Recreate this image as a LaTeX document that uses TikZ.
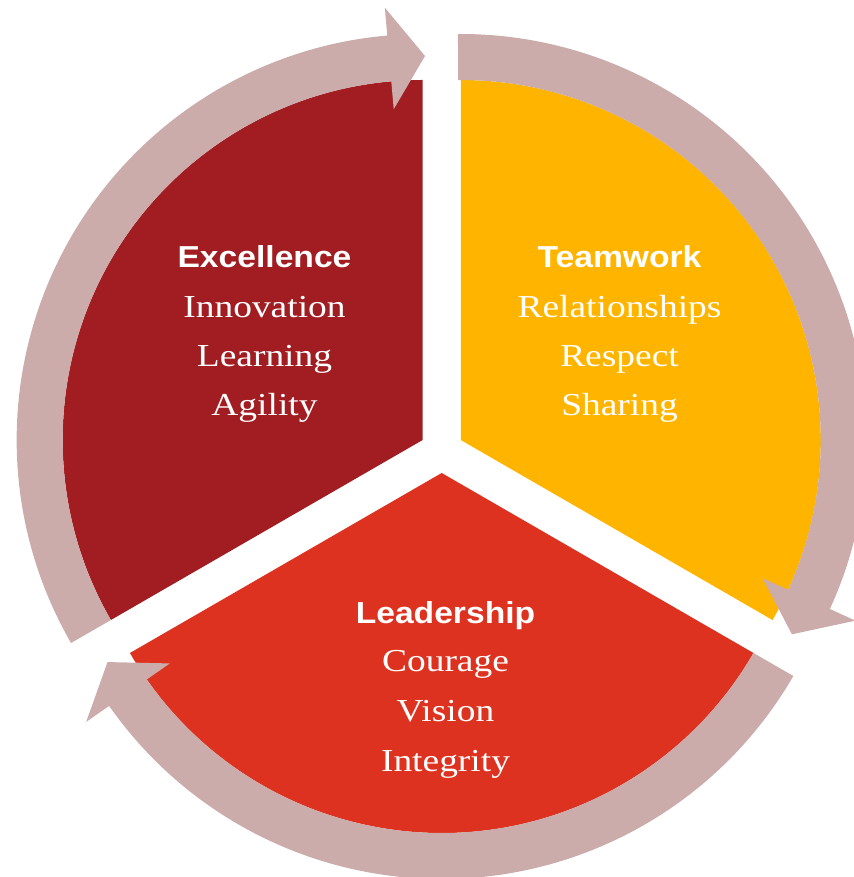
\documentclass[tikz,border=0pt]{standalone}
\usepackage{fontspec}
\setmainfont{Liberation Serif}[FakeStretch=1.17]
\newfontfamily\hdfont{Liberation Sans}[FakeStretch=1.11]
\definecolor{excc}{RGB}{161,29,33}
\definecolor{teamc}{RGB}{255,181,0}
\definecolor{leadc}{RGB}{222,50,32}
\definecolor{bandc}{RGB}{203,172,171}
\begin{document}
\begin{tikzpicture}[x=1pt,y=1pt,
  hd/.style={text=white,font=\hdfont\bfseries\fontsize{30.3}{36}\selectfont,anchor=base,inner sep=0pt},
  bd/.style={text=white,font=\fontsize{32}{38}\selectfont,anchor=base,inner sep=0pt},
  band/.style={fill=bandc}]
\useasboundingbox (0,0) rectangle (853,877);
\coordinate (E) at (422.65,437);
\coordinate (T) at (460.75,437);
\coordinate (L) at (441.7,404);
% sectors
\fill[excc] (E) -- ++(90:360) arc[start angle=90,end angle=210,radius=360] -- cycle;
\fill[teamc] (T) -- ++(-30:360) arc[start angle=-30,end angle=90,radius=360] -- cycle;
\fill[leadc] (L) -- ++(210:360) arc[start angle=210,end angle=330,radius=360] -- cycle;
% arrows
\begin{scope}[shift={(E)}]
\fill[band] (210:406) arc[start angle=210,end angle=95,radius=406] -- (95:434) -- (89.65:384) -- (95:332) -- (95:360) arc[start angle=95,end angle=210,radius=360] -- cycle;
\end{scope}
\begin{scope}[shift={(T)}]
\fill[band] (90.4:406) arc[start angle=90.4,end angle=-24.6,radius=406] -- (-24.6:434) -- (-30.4:384) -- (-24.6:332) -- (-24.6:360) arc[start angle=-24.6,end angle=90.4,radius=360] -- cycle;
\end{scope}
\begin{scope}[shift={(L)}]
\fill[band] (-30:406) arc[start angle=-30,end angle=-145,radius=406] -- (-145:434) -- (-150.5:384) -- (-145:332) -- (-145:360) arc[start angle=-145,end angle=-30,radius=360] -- cycle;
\end{scope}
% texts
\node[hd] (e0) at (264.5,609) {Excellence};
\node[bd] (e1) at (264.5,559) {Innovation};
\node[bd] (e2) at (264.5,510) {Learning};
\node[bd] (e3) at (264.5,461) {Agility};
\node[hd] (t0) at (619.5,609) {Teamwork};
\node[bd] (t1) at (619.5,559) {Relationships};
\node[bd] (t2) at (619.5,510) {Respect};
\node[bd] (t3) at (619.5,461) {Sharing};
\node[hd] (l0) at (445.5,253.7) {Leadership};
\node[bd] (l1) at (445.5,205.3) {Courage};
\node[bd] (l2) at (445.5,155.3) {Vision};
\node[bd] (l3) at (445.5,105.3) {Integrity};
\end{tikzpicture}
\end{document}
